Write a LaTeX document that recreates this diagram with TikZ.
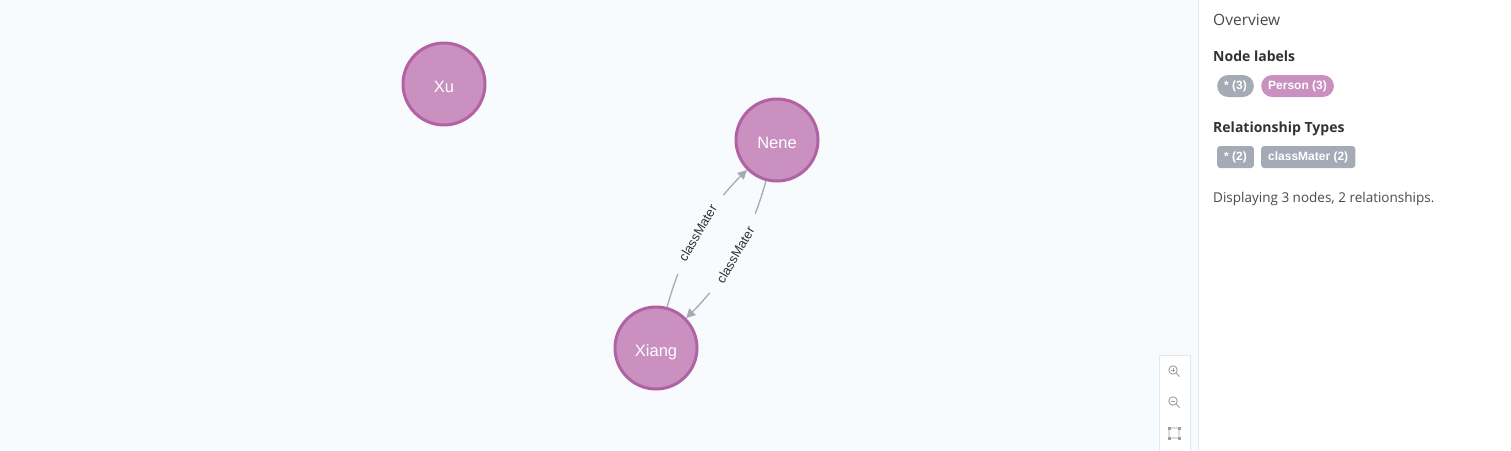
\documentclass[tikz,border=0pt]{standalone}
\usepackage{fontspec}
\setmainfont{Liberation Sans}
\newfontfamily\opensans{Open Sans}
\usetikzlibrary{arrows.meta}
\definecolor{bgc}{HTML}{F8FBFE}
\definecolor{nodefill}{HTML}{C990C0}
\definecolor{nodedraw}{HTML}{B261A5}
\definecolor{relc}{HTML}{A5ABB6}
\definecolor{txtc}{HTML}{333333}
\definecolor{ovc}{HTML}{4A4A4A}
\definecolor{panelline}{HTML}{E3E7ED}
\definecolor{iconc}{HTML}{9A9FA8}
\begin{document}
\begin{tikzpicture}[x=1pt,y=-1pt,
  person/.style={circle, fill=nodefill, draw=nodedraw, line width=3pt,
    minimum size=82pt, inner sep=0pt, text=white, text height=17.5pt, text depth=0pt,
    font=\fontsize{16.5}{18}\selectfont},
  rel/.style={draw=relc, line width=1.3pt, -{Triangle[length=9pt,width=9pt]}},
  rellabel/.style={sloped, fill=bgc, inner xsep=14pt, inner ysep=1pt, text=txtc,
    font=\fontsize{13}{15}\selectfont},
  paneltext/.style={anchor=base west, inner sep=0pt, text=txtc},
  pilltext/.style={text=white, font=\fontsize{12}{14}\selectfont\bfseries,
    inner xsep=7pt, inner ysep=0pt, minimum height=22pt, anchor=west},
  labelpill/.style={pilltext, rounded corners=11pt},
  relpill/.style={pilltext, rounded corners=3pt, fill=relc},
  iconstyle/.style={draw=iconc, line width=0.9pt}
]
\useasboundingbox (0,0) rectangle (1511,450);
\fill[bgc] (0,0) rectangle (1198,450);
\fill[white] (1198,0) rectangle (1511,450);
\draw[panelline, line width=1pt] (1198.5,0) -- (1198.5,450);

% graph nodes
\node[person] (xu) at (444,84) {Xu};
\node[person] (nene) at (777,140) {Nene};
\node[person] (xiang) at (656,348) {Xiang};

% relationships
\draw[rel] (xiang) to[bend left=15, looseness=0.9] node[rellabel] {classMater} (nene);
\draw[rel] (nene) to[bend left=15, looseness=0.9] node[rellabel] {classMater} (xiang);

% zoom controls
\node[draw=panelline, fill=white, line width=1pt, minimum width=31pt, minimum height=100pt,
  anchor=north west, inner sep=0pt] (zoombox) at (1159,355) {};
\coordinate (zin) at (1173,370);
\coordinate (zout) at (1173,401);
\coordinate (zfit) at (1174,433);
\draw[iconstyle] (zin) circle (4.2pt);
\draw[iconstyle] ([shift={(3,3)}]zin) -- ([shift={(6.5,6.5)}]zin);
\draw[iconstyle, line width=0.8pt] ([shift={(-2,0)}]zin) -- ([shift={(2,0)}]zin)
  ([shift={(0,-2)}]zin) -- ([shift={(0,2)}]zin);
\draw[iconstyle] (zout) circle (4.2pt);
\draw[iconstyle] ([shift={(3,3)}]zout) -- ([shift={(6.5,6.5)}]zout);
\draw[iconstyle, line width=0.8pt] ([shift={(-2,0)}]zout) -- ([shift={(2,0)}]zout);
\draw[iconstyle, line width=0.7pt, rounded corners=1pt] ([shift={(-5,-5)}]zfit) rectangle ([shift={(5,5)}]zfit);
\foreach \dx/\dy in {-5/-5,5/-5,-5/5,5/5}
  \fill[iconc] ([shift={(\dx-1.5,\dy-1.5)}]zfit) rectangle ([shift={(\dx+1.5,\dy+1.5)}]zfit);

% overview panel
\node[paneltext, text=ovc, font=\opensans\fontsize{15.5}{18}\selectfont] (ov) at (1213,25) {Overview};
\node[paneltext, font=\opensans\fontsize{14}{17}\selectfont\bfseries] (nl) at (1213,61) {Node labels};
\node[labelpill, fill=relc] (p1) at (1217,86) {* (3)};
\node[labelpill, fill=nodefill] (p2) at (1261,86) {Person (3)};
\node[paneltext, font=\opensans\fontsize{14}{17}\selectfont\bfseries] (rt) at (1213,132) {Relationship Types};
\node[relpill] (r1) at (1217,157) {* (2)};
\node[relpill] (r2) at (1261,157) {classMater (2)};
\node[paneltext, text=ovc, font=\opensans\fontsize{13.5}{16}\selectfont] (disp) at (1213,202) {Displaying 3 nodes, 2 relationships.};
\end{tikzpicture}
\end{document}
